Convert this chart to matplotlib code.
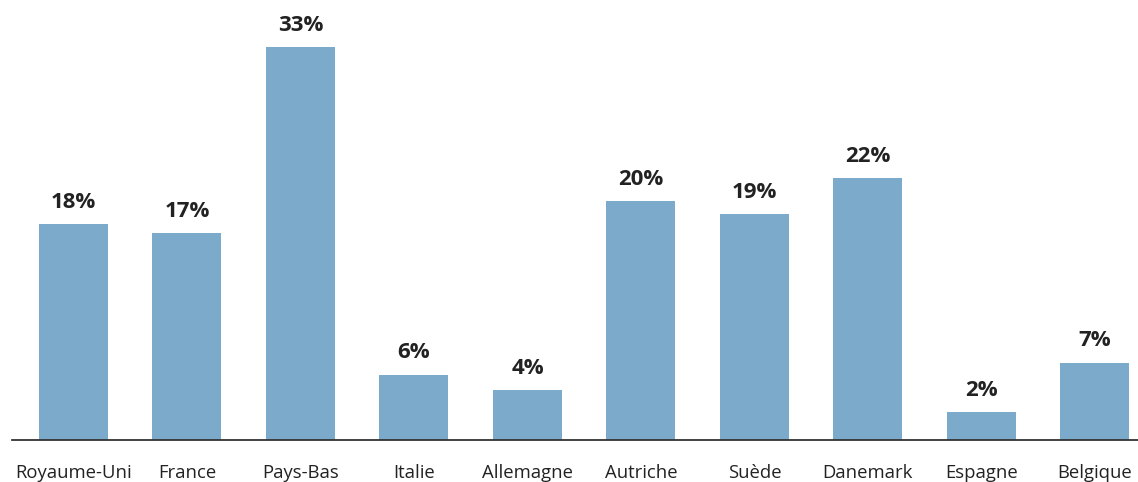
import matplotlib
matplotlib.use("Agg")
import matplotlib.pyplot as plt
import numpy as np

countries = ["Royaume-Uni", "France", "Pays-Bas", "Italie", "Allemagne",
             "Autriche", "Suède", "Danemark", "Espagne", "Belgique"]
values = [18.1, 17.4, 33.0, 5.5, 4.2, 20.1, 19.0, 22.0, 2.35, 6.5]
labels = ["18%", "17%", "33%", "6%", "4%", "20%", "19%", "22%", "2%", "7%"]

plt.rcParams["font.family"] = ["Open Sans", "DejaVu Sans"]

fig = plt.figure(figsize=(11.38, 4.82), dpi=100)
ax = fig.add_axes([12 / 1138, 42 / 482, 1 - 12 / 1138, 1 - 42 / 482])

x = np.arange(len(countries))
bars = ax.bar(x, values, width=0.608, color="#7BAACB")

for b, lab in zip(bars, labels):
    ax.annotate(lab, (b.get_x() + b.get_width() / 2, b.get_height()),
                xytext=(0, 8), textcoords="offset points",
                ha="center", va="bottom", fontsize=16, fontweight="bold",
                color="#222222")

ax.set_xlim(-0.542, 9.38)
ax.set_ylim(0, 36.95)
ax.set_xticks(x)
ax.set_xticklabels(countries, fontsize=13.3, color="#222222")
ax.tick_params(axis="x", length=0, pad=17.5)
ax.set_yticks([])

for s in ["top", "right", "left"]:
    ax.spines[s].set_visible(False)
ax.spines["bottom"].set_color("#333333")
ax.spines["bottom"].set_linewidth(1.3)

fig.savefig("out.png", dpi=100)
